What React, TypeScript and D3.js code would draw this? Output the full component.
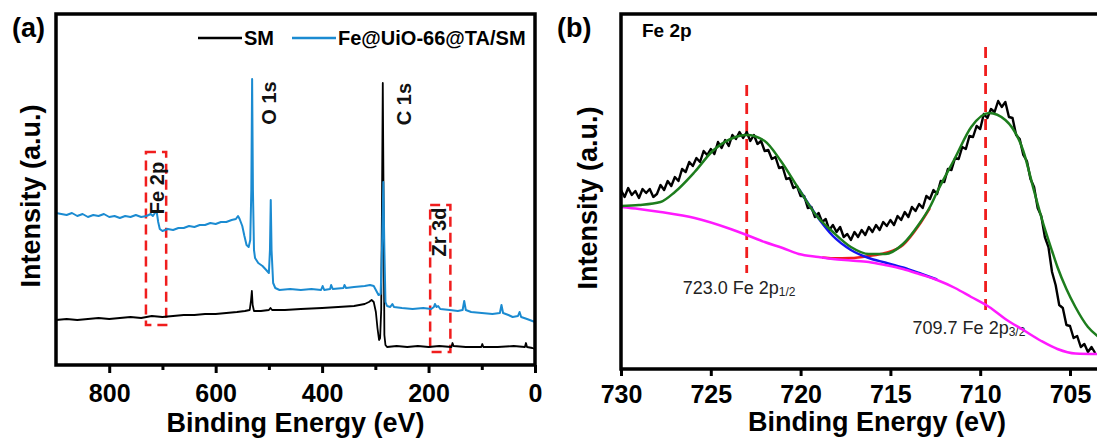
import React, { useEffect, useRef } from 'react';
import * as d3 from 'd3';

// (a) espectro survey — energia de ligação (eV) e intensidade (u.a.)
const surveyEvSM = [900, 880, 860, 840, 820, 800, 780, 760, 740, 720, 700, 680, 660, 640, 620, 600, 580, 560, 545, 536, 533.5, 532, 530.5, 528, 515, 500, 497, 494, 470, 440, 400, 370, 340, 320, 312, 307, 303, 299, 296, 293, 291, 289, 287.5, 286, 284.5, 283, 281, 278, 260, 240, 220, 200, 180, 157, 155, 153, 130, 101, 99, 97, 70, 40, 19, 17, 15, 5, 0];
const surveySM = [45, 46, 45, 46, 47, 46, 47, 48, 47, 49, 48, 49, 50, 50, 51, 51, 52, 53, 54, 55, 65, 74, 60, 54, 54, 55, 57, 55, 55, 56, 57, 58, 59, 61, 63, 65, 63, 53, 37, 25, 27, 55, 165, 282, 165, 30, 20, 18, 19, 18, 19, 18, 19, 18, 22, 19, 18, 18, 21, 18, 18, 19, 18, 22, 18, 17, 16];

const surveyEvFe = [900, 880, 870, 860, 850, 840, 830, 820, 810, 800, 790, 780, 770, 760, 750, 740, 730, 722, 718, 714, 711, 708, 705, 700, 690, 680, 670, 660, 650, 640, 630, 620, 610, 600, 590, 580, 570, 562, 558, 555, 550, 546, 542, 538, 535, 533, 531.5, 530, 528, 526, 520, 512, 505, 500, 498, 496.5, 495, 492, 488, 480, 460, 440, 420, 402, 399, 396, 385, 383, 380, 360, 358, 355, 340, 320, 310, 303, 298, 294, 290, 287.5, 285, 283, 281, 278, 272, 268, 265, 250, 230, 210, 195, 190, 188, 185, 182, 178, 160, 145, 136, 133, 130, 120, 100, 80, 66, 63, 60, 50, 42, 32, 29, 26, 15, 5, 0];
const surveyFe = [152, 150, 152, 149, 151, 148, 150, 149, 151, 148, 149, 147, 149, 148, 150, 148, 149, 151, 149, 152, 154, 143, 136, 134, 136, 135, 137, 137, 139, 138, 140, 140, 142, 141, 143, 143, 145, 146, 149, 146, 139, 129, 120, 118, 125, 175, 286, 175, 115, 107, 102, 99, 95, 92, 115, 165, 115, 82, 77, 75, 76, 75, 76, 75, 79, 75, 76, 80, 76, 77, 80, 77, 78, 79, 80, 79, 74, 70, 71, 115, 183, 115, 63, 59, 58, 61, 58, 57, 56, 57, 56, 58, 61, 58, 59, 56, 55, 54, 55, 64, 55, 53, 52, 51, 52, 60, 52, 50, 48, 49, 53, 48, 46, 44, 43];

const surveyTicks = [800, 600, 400, 200, 0];
const surveyTicksMenores = [700, 500, 300, 100];
const legendaNomes = ['SM', 'Fe@UiO-66@TA/SM'];
const picosNomes = ['O 1s', 'C 1s', 'Fe 2p', 'Zr 3d'];
const picosEv = [500, 247, 710, 181];
const caixasEv = [[731, 693], [197, 159]];
const caixasIntens = [[213, 40], [160, 13]];

// (b) Fe 2p alta resolução
const fe2pEv = [
  730.0, 729.8, 729.6, 729.4, 729.2, 729.0, 728.8, 728.6, 728.4, 728.2,
  728.0, 727.8, 727.6, 727.4, 727.2, 727.0, 726.8, 726.6, 726.4, 726.2,
  726.0, 725.8, 725.6, 725.4, 725.2, 725.0, 724.8, 724.6, 724.4, 724.2,
  724.0, 723.8, 723.6, 723.4, 723.2, 723.0, 722.8, 722.6, 722.4, 722.2,
  722.0, 721.8, 721.6, 721.4, 721.2, 721.0, 720.8, 720.6, 720.4, 720.2,
  720.0, 719.8, 719.6, 719.4, 719.2, 719.0, 718.8, 718.6, 718.4, 718.2,
  718.0, 717.8, 717.6, 717.4, 717.2, 717.0, 716.8, 716.6, 716.4, 716.2,
  716.0, 715.8, 715.6, 715.4, 715.2, 715.0, 714.8, 714.6, 714.4, 714.2,
  714.0, 713.8, 713.6, 713.4, 713.2, 713.0, 712.8, 712.6, 712.4, 712.2,
  712.0, 711.8, 711.6, 711.4, 711.2, 711.0, 710.8, 710.6, 710.4, 710.2,
  710.0, 709.8, 709.6, 709.4, 709.2, 709.0, 708.8, 708.6, 708.4, 708.2,
  708.0, 707.8, 707.6, 707.4, 707.2, 707.0, 706.8, 706.6, 706.4, 706.2,
  706.0, 705.8, 705.6, 705.4, 705.2, 705.0, 704.8, 704.6, 704.4, 704.2,
  704.0, 703.8, 703.6,
];
const fe2pMedido = [
  179, 172, 181, 174, 178, 171, 180, 176, 180, 172,
  175, 184, 179, 188, 183, 192, 188, 200, 197, 207,
  203, 211, 207, 218, 214, 220, 215, 227, 221, 229,
  223, 234, 230, 237, 231, 237, 228, 234, 225, 228,
  218, 219, 210, 212, 201, 202, 190, 191, 181, 183,
  173, 173, 161, 162, 152, 156, 147, 150, 139, 144,
  137, 142, 132, 135, 129, 137, 132, 139, 134, 142,
  137, 144, 139, 147, 143, 149, 144, 153, 149, 157,
  152, 162, 158, 165, 161, 173, 170, 179, 175, 188,
  187, 200, 199, 211, 210, 222, 220, 233, 232, 243,
  240, 255, 251, 260, 257, 268, 262, 267, 252, 251,
  234, 230, 214, 208, 190, 182, 161, 153, 132, 122,
  97, 84, 64, 61, 44, 43, 31, 33, 22, 25,
  17, 22, 16,
];

const envelopeEv = [730, 729, 727.8, 727, 725.9, 724.9, 723.9, 723.0, 722.0, 721.1, 720.1, 719.1, 718.2, 717.2, 716.2, 715.3, 714.3, 713.4, 712.8, 712.4, 711.4, 710.5, 709.5, 708.6, 707.6, 707.0, 706.6, 706.0, 705.7, 705.2, 704.7, 704.0, 703.4];
const envelope = [163, 164, 167, 177, 197, 218, 230, 234, 228, 208, 180, 153, 137, 122, 115, 115, 125, 145, 162, 177, 211, 242, 256, 249, 218, 178, 152, 118, 102, 80, 62, 42, 32];

const fundoEv = [730, 729, 727.8, 725.9, 723.9, 723.0, 722.0, 721.0, 720.1, 719.0, 718.2, 717.2, 716.2, 715.3, 714.3, 713.4, 712.4, 711.4, 710.5, 709.5, 708.6, 707.6, 706.6, 705.7, 704.7, 703.4];
const fundo = [162, 160, 157, 151, 140, 134, 127, 121, 115, 112, 110, 108.5, 107, 104, 100, 95, 89, 81, 72, 62, 50, 39, 28, 20, 15.5, 15];

const comp12Ev = [720.1, 719.1, 718.2, 717.2, 716.2, 715.3, 714.3, 713.4, 712.4];
const comp12 = [180, 153, 133, 119, 111, 106.5, 101.5, 96, 89.5];
const comp32Ev = [718.8, 718.2, 717.2, 716.2, 715.3, 714.3, 713.4, 712.8];
const comp32 = [111.5, 110.8, 111, 113, 116, 124, 144, 161];

const fe2pTicks = [730, 725, 720, 715, 710, 705];
const fe2pPicos = [723.0, 709.7];
const fe2pRotulos = ['723.0 Fe 2p', '709.7 Fe 2p'];
const fe2pSubscritos = ['1/2', '3/2'];

const FONTE = "'Liberation Sans', Arial, Helvetica, sans-serif";
const AZUL = '#1b8bd1';
const VERDE = '#1d7d1d';
const MAGENTA = '#ff1aff';
const VERMELHO = '#f01d1d';
const AZUL_COMP = '#1414f0';

const estiloEixo = (ax: any, tamanhoFonte: number) => {
  ax.select('.domain').remove();
  ax.selectAll('line').attr('stroke', '#000').attr('stroke-width', 3);
  ax.selectAll('text')
    .attr('fill', '#000')
    .attr('font-family', FONTE)
    .attr('font-size', tamanhoFonte)
    .attr('font-weight', 'bold');
};

function desenharSurvey(svg: any) {
  const esq = 56, dir = 535, topo = 14, base = 365;
  const x = d3.scaleLinear().domain([900, 0]).range([esq, dir]);
  const y = d3.scaleLinear().domain([0, 351]).range([base, topo]);
  const g = svg.append('g');

  caixasEv.forEach((faixa, i) => {
    const [alto, baixo] = caixasIntens[i];
    g.append('rect')
      .attr('x', x(faixa[0]))
      .attr('y', y(alto))
      .attr('width', x(faixa[1]) - x(faixa[0]))
      .attr('height', y(baixo) - y(alto))
      .attr('fill', 'none')
      .attr('stroke', VERMELHO)
      .attr('stroke-width', 2.5)
      .attr('stroke-dasharray', '10,6');
  });

  const linha = d3.line<[number, number]>().x(d => x(d[0])).y(d => y(d[1]));

  g.append('path')
    .datum(d3.zip(surveyEvSM, surveySM))
    .attr('d', linha)
    .attr('fill', 'none')
    .attr('stroke', '#000')
    .attr('stroke-width', 1.8)
    .attr('stroke-linejoin', 'round');

  g.append('path')
    .datum(d3.zip(surveyEvFe, surveyFe))
    .attr('d', linha)
    .attr('fill', 'none')
    .attr('stroke', AZUL)
    .attr('stroke-width', 2)
    .attr('stroke-linejoin', 'round');

  // rótulos dos picos, girados
  const rotuloY = [103, 104, 188, 232];
  picosNomes.forEach((nome, i) => {
    g.append('text')
      .attr('transform', `translate(${x(picosEv[i])},${rotuloY[i]}) rotate(-90)`)
      .attr('text-anchor', 'middle')
      .attr('dominant-baseline', 'central')
      .attr('font-family', FONTE)
      .attr('font-size', 20)
      .attr('font-weight', 'bold')
      .attr('fill', '#111')
      .text(nome);
  });

  // legenda
  const cores = ['#000', AZUL];
  const legX = [198, 292];
  legendaNomes.forEach((nome, i) => {
    g.append('line')
      .attr('x1', legX[i]).attr('x2', legX[i] + 44)
      .attr('y1', 38).attr('y2', 38)
      .attr('stroke', cores[i])
      .attr('stroke-width', 2.5);
    g.append('text')
      .attr('x', legX[i] + 46)
      .attr('y', 45)
      .attr('font-family', FONTE)
      .attr('font-size', 20)
      .attr('font-weight', 'bold')
      .attr('fill', '#000')
      .text(nome);
  });

  const eixo = g.append('g').attr('transform', `translate(0,${base})`)
    .call(d3.axisBottom(x).tickValues(surveyTicks).tickSize(8).tickPadding(11).tickSizeOuter(0));
  estiloEixo(eixo, 25);
  const menores = g.append('g').attr('transform', `translate(0,${base})`)
    .call(d3.axisBottom(x).tickValues(surveyTicksMenores).tickSize(5).tickFormat(() => '').tickSizeOuter(0));
  estiloEixo(menores, 25);

  g.append('rect')
    .attr('x', esq).attr('y', topo)
    .attr('width', dir - esq).attr('height', base - topo)
    .attr('fill', 'none').attr('stroke', '#000').attr('stroke-width', 3.5);

  g.append('text')
    .attr('x', (esq + dir) / 2).attr('y', 432)
    .attr('text-anchor', 'middle')
    .attr('font-family', FONTE).attr('font-size', 27).attr('font-weight', 'bold')
    .text('Binding Energy (eV)');

  g.append('text')
    .attr('transform', `translate(40,196) rotate(-90)`)
    .attr('text-anchor', 'middle')
    .attr('font-family', FONTE).attr('font-size', 27).attr('font-weight', 'bold')
    .text('Intensity (a.u.)');

  g.append('text')
    .attr('x', 12).attr('y', 37)
    .attr('font-family', FONTE).attr('font-size', 27).attr('font-weight', 'bold')
    .text('(a)');
}

function desenharFe2p(svg: any) {
  const esq = 621, topo = 14, base = 369;
  const x = d3.scaleLinear().domain([730, 705]).range([esq, 1070]);
  const y = d3.scaleLinear().domain([0, 355]).range([base, topo]);
  const dir = x(702);
  const g = svg.append('g');

  // linhas tracejadas nas posições dos picos
  const linhaTopo = [284, 322];
  const linhaBase = [96, 54];
  fe2pPicos.forEach((ev, i) => {
    g.append('line')
      .attr('x1', x(ev)).attr('x2', x(ev))
      .attr('y1', y(linhaTopo[i])).attr('y2', y(linhaBase[i]))
      .attr('stroke', VERMELHO)
      .attr('stroke-width', 2.8)
      .attr('stroke-dasharray', '11,7');
  });

  const deslocTexto = [-64, -73];
  const textoBase = [294, 334];
  fe2pRotulos.forEach((rot, i) => {
    const t = g.append('text')
      .attr('x', x(fe2pPicos[i]) + deslocTexto[i])
      .attr('y', textoBase[i])
      .attr('font-family', FONTE)
      .attr('font-size', 18)
      .attr('fill', '#222');
    t.append('tspan').text(rot);
    t.append('tspan').attr('font-size', 12).attr('dy', 2).text(fe2pSubscritos[i]);
  });

  const linha = d3.line<[number, number]>().x(d => x(d[0])).y(d => y(d[1]));
  const suave = d3.line<[number, number]>().x(d => x(d[0])).y(d => y(d[1])).curve(d3.curveMonotoneX);

  g.append('path')
    .datum(d3.zip(fe2pEv, fe2pMedido))
    .attr('d', linha)
    .attr('fill', 'none')
    .attr('stroke', '#000')
    .attr('stroke-width', 2.4)
    .attr('stroke-linejoin', 'round');

  // componentes primeiro; fundo (Shirley) e envoltória por cima
  const curvas: [number[], number[], string][] = [
    [comp32Ev, comp32, VERMELHO],
    [comp12Ev, comp12, AZUL_COMP],
    [fundoEv, fundo, MAGENTA],
    [envelopeEv, envelope, VERDE],
  ];
  curvas.forEach(([ev, val, cor]) => {
    g.append('path')
      .datum(d3.zip(ev, val))
      .attr('d', suave)
      .attr('fill', 'none')
      .attr('stroke', cor)
      .attr('stroke-width', 2.5);
  });

  const eixo = g.append('g').attr('transform', `translate(0,${base})`)
    .call(d3.axisBottom(x).tickValues(fe2pTicks).tickSize(7).tickPadding(9).tickSizeOuter(0));
  estiloEixo(eixo, 25);

  g.append('rect')
    .attr('x', esq).attr('y', topo)
    .attr('width', dir - esq).attr('height', base - topo)
    .attr('fill', 'none').attr('stroke', '#000').attr('stroke-width', 3.5);

  g.append('text')
    .attr('x', 877).attr('y', 431)
    .attr('text-anchor', 'middle')
    .attr('font-family', FONTE).attr('font-size', 27).attr('font-weight', 'bold')
    .text('Binding Energy (eV)');

  g.append('text')
    .attr('transform', `translate(597,198) rotate(-90)`)
    .attr('text-anchor', 'middle')
    .attr('font-family', FONTE).attr('font-size', 27).attr('font-weight', 'bold')
    .text('Intensity (a.u.)');

  g.append('text')
    .attr('x', 557).attr('y', 37)
    .attr('font-family', FONTE).attr('font-size', 27).attr('font-weight', 'bold')
    .text('(b)');

  g.append('text')
    .attr('x', 642).attr('y', 37)
    .attr('font-family', FONTE).attr('font-size', 19).attr('font-weight', 'bold')
    .text('Fe 2p');
}

export default function App() {
  const svgRef = useRef<SVGSVGElement | null>(null);

  useEffect(() => {
    document.body.style.margin = '0';
    const svg = d3.select(svgRef.current);
    svg.selectAll('*').remove();
    svg.append('rect').attr('width', 1097).attr('height', 439).attr('fill', '#fff');
    desenharSurvey(svg);
    desenharFe2p(svg);
  }, []);

  return (
    <svg
      ref={svgRef}
      width={1097}
      height={439}
      style={{ position: 'absolute', left: 0, top: 0, display: 'block' }}
    />
  );
}
